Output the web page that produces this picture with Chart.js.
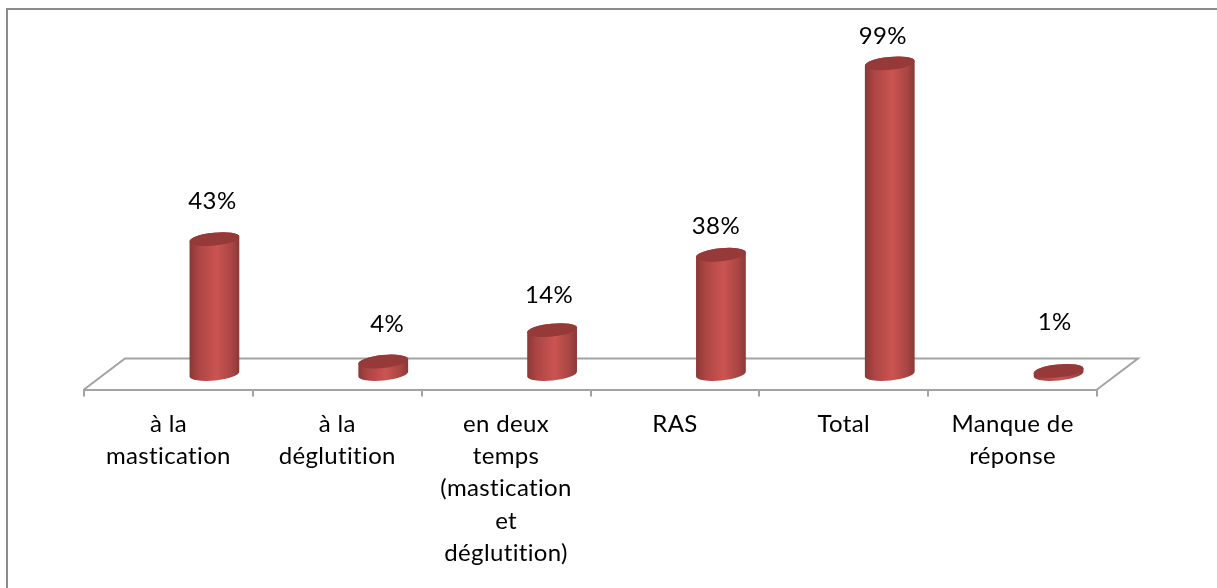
<!DOCTYPE html>
<html>
<head>
<meta charset="utf-8">
<script src="https://cdn.jsdelivr.net/npm/chart.js@4"></script>
<style>
  html, body { margin: 0; padding: 0; background: #fff; }
  #wrap { position: relative; width: 1217px; height: 588px; }
</style>
</head>
<body>
<div id="wrap"><canvas id="chart" width="1217" height="588"></canvas></div>
<script>
const categories = [
  ["à la", "mastication"],
  ["à la", "déglutition"],
  ["en deux", "temps", "(mastication", "et", "déglutition)"],
  ["RAS"],
  ["Total"],
  ["Manque de", "réponse"]
]
const values = [43, 4, 14, 38, 99, 1]

const depthX = 46
const depthY = 15.5
const labelNudge = [[-2, -38], [4, -37], [-3, -35], [-5, -29], [-7, -27], [-4, -49]]

const framePlugin = {
  id: "frame",
  beforeDraw(chart) {
    const { ctx } = chart
    // a little spacing: Lato runs narrower than the original font and this also turns off its "ti" ligature
    ctx.letterSpacing = "0.35px"
    ctx.save()
    ctx.strokeStyle = "#8c8c8c"
    ctx.lineWidth = 2
    ctx.beginPath()
    ctx.moveTo(7, 588)
    ctx.lineTo(7, 9)
    ctx.lineTo(1217, 9)
    ctx.stroke()
    ctx.restore()
  }
}

const floorPlugin = {
  id: "floor",
  beforeDatasetsDraw(chart) {
    const { ctx, chartArea: a } = chart
    ctx.save()
    ctx.strokeStyle = "#a3a3a3"
    ctx.lineWidth = 2
    ctx.beginPath()
    ctx.moveTo(a.left, a.bottom)
    ctx.lineTo(a.left + 41, a.bottom - 31)
    ctx.lineTo(a.right + 41, a.bottom - 31)
    ctx.lineTo(a.right, a.bottom)
    ctx.stroke()
    ctx.restore()
  }
}

const cylinderPlugin = {
  id: "cylinders",
  afterDatasetsDraw(chart) {
    const { ctx, scales } = chart
    const base = scales.y.getPixelForValue(0) - depthY
    chart.getDatasetMeta(0).data.forEach((bar, i) => {
      const cx = bar.x + depthX
      const top = bar.y - depthY
      const rx = bar.width / 2
      const ry = 6.5
      const tilt = -0.1
      const grad = ctx.createLinearGradient(cx - rx, 0, cx + rx, 0)
      grad.addColorStop(0, "#8a3836")
      grad.addColorStop(0.2, "#ad4644")
      grad.addColorStop(0.55, "#cb5451")
      grad.addColorStop(0.85, "#a84543")
      grad.addColorStop(1, "#8a3836")

      ctx.save()
      ctx.fillStyle = grad
      ctx.beginPath()
      ctx.ellipse(cx, base, rx, ry, tilt, 0, Math.PI)
      ctx.ellipse(cx, top, rx, ry, tilt, Math.PI, 0)
      ctx.closePath()
      ctx.fill()

      ctx.fillStyle = "#953a38"
      ctx.beginPath()
      ctx.ellipse(cx, top, rx, ry, tilt, 0, Math.PI * 2)
      ctx.fill()

      ctx.fillStyle = "#000"
      ctx.font = "24px Lato"
      ctx.textAlign = "center"
      ctx.textBaseline = "middle"
      const [nx, ny] = labelNudge[i]
      ctx.fillText(values[i] + "%", cx + nx, top + ny)
      ctx.restore()
    })
  }
}

new Chart(document.getElementById("chart"), {
  type: "bar",
  data: {
    labels: categories,
    datasets: [{
      data: values,
      backgroundColor: "rgba(0,0,0,0)",
      barThickness: 50
    }]
  },
  options: {
    responsive: false,
    animation: false,
    layout: { padding: { left: 84, right: 120, top: 13, bottom: 7 } },
    plugins: { legend: { display: false }, tooltip: { enabled: false } },
    scales: {
      x: {
        border: { color: "#a3a3a3", width: 2 },
        grid: { drawOnChartArea: false, color: "#a3a3a3", lineWidth: 2, tickLength: 7 },
        ticks: {
          color: "#000",
          font: { family: "Lato", size: 24, lineHeight: 1.354 },
          padding: 11,
          maxRotation: 0,
          autoSkip: false
        }
      },
      y: {
        display: false,
        min: 0,
        max: 120
      }
    }
  },
  plugins: [framePlugin, floorPlugin, cylinderPlugin]
})
</script>
</body>
</html>
